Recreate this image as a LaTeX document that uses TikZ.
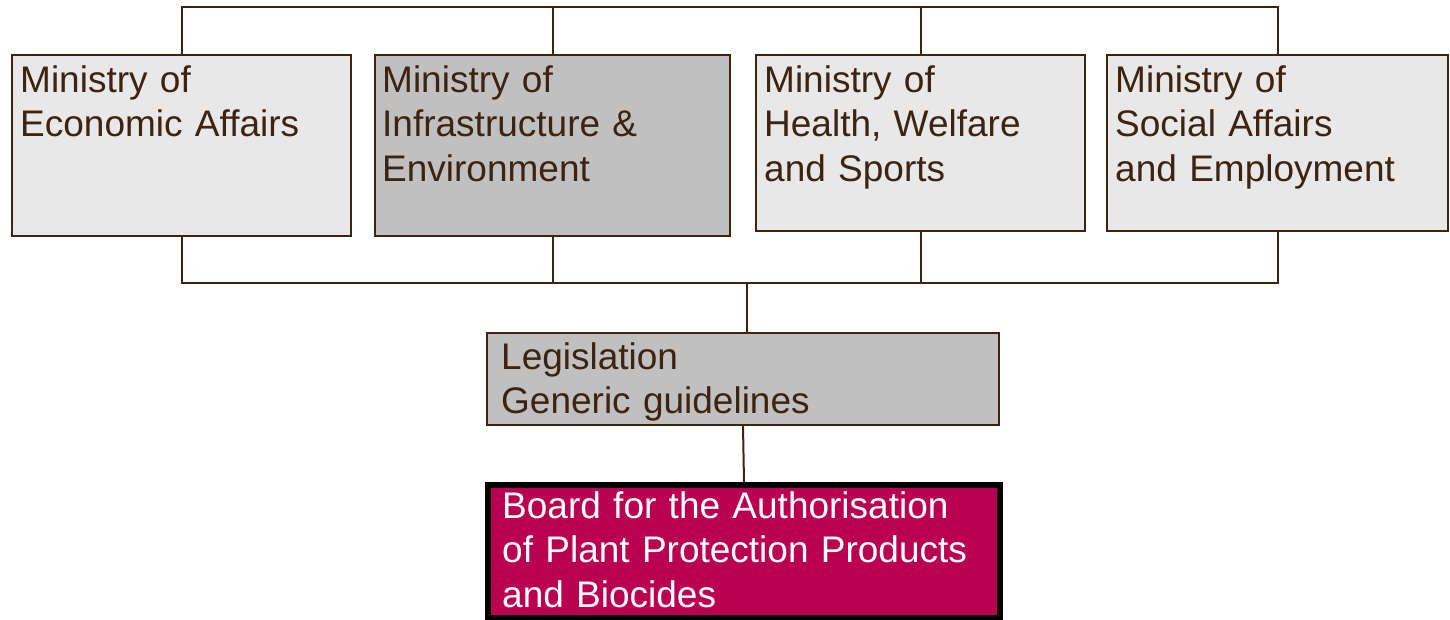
\documentclass[tikz,border=0pt]{standalone}
\usepackage{fontspec}
\setmainfont{Liberation Sans}
\begin{document}
\definecolor{ink}{HTML}{3D2410}
\definecolor{lightbox}{HTML}{E8E8E8}
\definecolor{darkbox}{HTML}{C0C0C0}
\definecolor{board}{HTML}{BA0050}
\begin{tikzpicture}[x=1pt,y=-1pt,
  box/.style={draw=ink,line width=2pt,rectangle,inner sep=0pt,anchor=north west},
  lbl/.style={anchor=base west,inner sep=0pt,text width=#1,align=left,
    text=ink,font=\fontsize{37}{44.5}\selectfont},
  wire/.style={draw=ink,line width=2pt}]
\useasboundingbox (0,0) rectangle (1450,619);
% ministries
\node[box,fill=lightbox,minimum width=339pt,minimum height=181pt] (eco) at (11,54) {};
\node[box,fill=darkbox,minimum width=355pt,minimum height=181pt] (inf) at (374,54) {};
\node[box,fill=lightbox,minimum width=329pt,minimum height=176pt] (hea) at (755,54) {};
\node[box,fill=lightbox,minimum width=341pt,minimum height=176pt] (soc) at (1106,54) {};
\node[lbl=320pt] (ecoT) at (20,92) {Ministry of\\Economic Affairs};
\node[lbl=340pt] (infT) at (382,92) {Ministry of\\Infrastructure \&\\Environment};
\node[lbl=320pt] (heaT) at (764,92) {Ministry of\\Health, Welfare\\and Sports};
\node[lbl=330pt] (socT) at (1115,92) {Ministry of\\Social Affairs\\and Employment};
% legislation and board
\node[box,fill=darkbox,minimum width=512pt,minimum height=92pt] (leg) at (486,332) {};
\node[lbl=490pt] (legT) at (501,369) {Legislation\\Generic guidelines};
\node[box,draw=black,line width=6pt,fill=board,minimum width=512pt,minimum height=133pt] (brd) at (485,482) {};
\node[lbl=490pt,text=white] (brdT) at (502,518) {Board for the Authorisation\\of Plant Protection Products\\and Biocides};
% bus lines
\coordinate (top) at (0,7);
\coordinate (bot) at (0,283);
\coordinate (mid) at (747,283);
\draw[wire] (eco.north) -- (eco.north |- top) -- (soc.north |- top) -- (soc.north);
\draw[wire] (inf.north) -- (inf.north |- top);
\draw[wire] (hea.north) -- (hea.north |- top);
\draw[wire] (eco.south) -- (eco.south |- bot) -- (soc.south |- bot) -- (soc.south);
\draw[wire] (inf.south) -- (inf.south |- bot);
\draw[wire] (hea.south) -- (hea.south |- bot);
\draw[wire] (mid) -- (mid |- leg.north);
\draw[wire] (leg.south) -- (brd.north);
\end{tikzpicture}
\end{document}
